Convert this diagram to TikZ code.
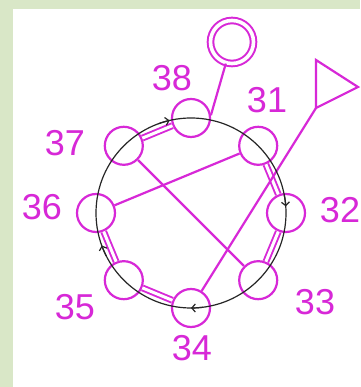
\documentclass[tikz,border=0pt]{standalone}
\usepackage{fontspec}
\setmainfont{Liberation Sans}
\usetikzlibrary{arrows.meta}
\definecolor{pin}{RGB}{215,40,215}
\definecolor{leaf}{RGB}{217,231,199}
\tikzset{
  ring/.style={draw=pin, line width=2.2pt, circle, minimum size=38pt, inner sep=0pt},
  lbl/.style={text=pin, font=\fontsize{36}{40}\selectfont, inner sep=0pt},
  wire/.style={draw=pin, line width=2.2pt},
  dwire/.style={draw=pin, line width=1.9pt, double=white, double distance=3pt},
  flow/.style={black!85, line width=1.2pt},
  barb/.style={flow, -{Straight Barb[length=3.5pt,width=8pt]}},
}
\begin{document}
\begin{tikzpicture}[x=1pt,y=1pt]
\useasboundingbox (0,0) rectangle (360,387);
\fill[leaf] (0,0) rectangle (360,387);
\fill[white] (13,0) rectangle (360,378);
\coordinate (c) at (191,174);
% seats round the ring
\node[ring] (p38) at (191,269) {};
\node[ring] (p31) at (258.2,241.2) {};
\node[ring] (p32) at (286,174) {};
\node[ring] (p33) at (258.2,106.8) {};
\node[ring] (p34) at (191,79) {};
\node[ring] (p35) at (123.8,106.8) {};
\node[ring] (p36) at (96,174) {};
\node[ring] (p37) at (123.8,241.2) {};
% numbers
\node[lbl] (l38) at (172,309) {38};
\node[lbl] (l31) at (267,287) {31};
\node[lbl] (l32) at (340,177) {32};
\node[lbl] (l33) at (315,85) {33};
\node[lbl] (l34) at (192,39) {34};
\node[lbl] (l35) at (75,80) {35};
\node[lbl] (l36) at (42,180) {36};
\node[lbl] (l37) at (65,244) {37};
% end marks
\node[draw=pin, line width=2pt, double=white, double distance=3.6pt, circle, minimum size=43pt, inner sep=0pt] (term) at (232,345) {};
\coordinate (tri) at (316,279);
\draw[wire, line join=miter] (tri) -- (316,327) -- (358,300) -- cycle;
% links
\draw[dwire] (p37) -- (p38);
\draw[dwire] (p31) -- (p32);
\draw[dwire] (p32) -- (p33);
\draw[dwire] (p34) -- (p35);
\draw[dwire] (p35) -- (p36);
\draw[wire] (p31) -- (p36);
\draw[wire] (p37) -- (p33);
\draw[wire] (p34) -- (tri);
\draw[wire] (p38.8) -- (term);
% direction circle
\draw[flow] (c) circle[radius=95];
\draw[barb] ([shift={(110:95)}]c) arc[start angle=110, end angle=103, radius=95];
\draw[barb] ([shift={(11:95)}]c) arc[start angle=11, end angle=4, radius=95];
\draw[barb] ([shift={(-83:95)}]c) arc[start angle=-83, end angle=-90, radius=95];
\draw[barb] ([shift={(-153:95)}]c) arc[start angle=-153, end angle=-160, radius=95];
\end{tikzpicture}
\end{document}
